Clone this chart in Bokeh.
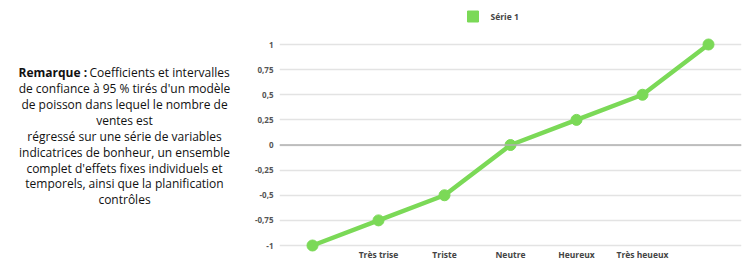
from bokeh.plotting import figure
from bokeh.layouts import row
from bokeh.models import Range1d, FixedTicker, Span
from bokeh.core.properties import value
from bokeh.embed import file_html
from bokeh.resources import INLINE

categories = ["", "Très trise", "Triste", "Neutre", "Heureux", "Très heueux", ""]
serie1 = [-1, -0.75, -0.5, 0, 0.25, 0.5, 1]
y_ticks = [-1, -0.75, -0.5, -0.25, 0, 0.25, 0.5, 0.75, 1]
y_tick_labels = ["-1", "-0,75", "-0,5", "-0,25", "0", "0,25", "0,5", "0,75", "1"]
series_name = "Série 1"
note_bold = "Remarque :"
note_first = "Coefficients et intervalles"
note_lines = [
    "de confiance à 95 % tirés d'un modèle",
    "de poisson dans lequel le nombre de",
    "ventes est",
    "régressé sur une série de variables",
    "indicatrices de bonheur, un ensemble",
    "complet d'effets fixes individuels et",
    "temporels, ainsi que la planification",
    "contrôles",
]

GREEN = "#7bd957"
FONT = "Open Sans"
H = 270

# ---- left note panel (pixel coordinates, y from top) ----
LW = 240
t = figure(width=LW, height=H, output_backend="svg", toolbar_location=None,
           x_range=Range1d(0, LW), y_range=Range1d(H, 0),
           min_border=0)
t.axis.visible = False
t.grid.visible = False
t.outline_line_color = None
t.text([18], [72], text=[note_bold], text_align="left", text_baseline="middle",
       text_font=value(FONT), text_font_style="bold", text_font_size="12px",
       text_color="#111111")
t.text([89], [72], text=[note_first], text_align="left", text_baseline="middle",
       text_font=value(FONT), text_font_size="12px", text_color="#111111")
t.text([124] * len(note_lines), [88 + 15.9 * i for i in range(len(note_lines))],
       text=note_lines, text_align="center", text_baseline="middle",
       text_font=value(FONT), text_font_size="12px", text_color="#111111")

# ---- chart ----
RW = 510
left, right = 279 - LW, 741 - LW
px_per_unit = 100.5
y_top = 1 + 44 / px_per_unit
y_bot = -1 - (H - 245) / px_per_unit

p = figure(width=RW, height=H, output_backend="svg", toolbar_location=None,
           x_range=Range1d(0, len(categories)), y_range=Range1d(y_bot, y_top),
           min_border_left=left, min_border_right=RW - right,
           min_border_top=0, min_border_bottom=0)
p.outline_line_color = None
p.xaxis.visible = False
p.xgrid.visible = False

yax = p.yaxis[0]
yax.ticker = FixedTicker(ticks=y_ticks)
yax.major_label_overrides = {tk: lb for tk, lb in zip(y_ticks, y_tick_labels)}
yax.axis_line_color = None
yax.major_tick_line_color = None
yax.minor_tick_line_color = None
yax.major_tick_in = 0
yax.major_tick_out = 0
yax.major_label_standoff = 6
yax.major_label_text_font = FONT
yax.major_label_text_font_style = "bold"
yax.major_label_text_font_size = "8px"
yax.major_label_text_color = "#555555"

p.ygrid.ticker = FixedTicker(ticks=y_ticks)
p.ygrid.grid_line_color = "#e3e3e3"
p.ygrid.grid_line_width = 1.3

p.add_layout(Span(location=0, dimension="width", line_color="#b0b0b0", line_width=1.5))

xs = [i + 0.5 for i in range(len(categories))]
p.line(xs, serie1, line_color=GREEN, line_width=4.5)
p.scatter(xs, serie1, size=11, fill_color=GREEN, line_color=GREEN)

label_y = -1 - 9 / px_per_unit
lab_x = [x for x, c in zip(xs, categories) if c]
lab_t = [c for c in categories if c]
p.text(lab_x, [label_y] * len(lab_x), text=lab_t, text_align="center",
       text_baseline="middle", text_font=value(FONT), text_font_style="bold",
       text_font_size="8.5px", text_color="#444444")

leg_y = 1 + (44 - 16) / px_per_unit
p.scatter([(472.5 - 279) / 66.0], [leg_y], marker="square", size=11,
          fill_color=GREEN, line_color=GREEN)
p.text([(490 - 279) / 66.0], [leg_y], text=[series_name], text_align="left",
       text_baseline="middle", text_font=value(FONT), text_font_style="bold",
       text_font_size="8.5px", text_color="#444444")

layout = row(t, p, spacing=0)
open("out.html", "w").write(file_html(layout, INLINE))
